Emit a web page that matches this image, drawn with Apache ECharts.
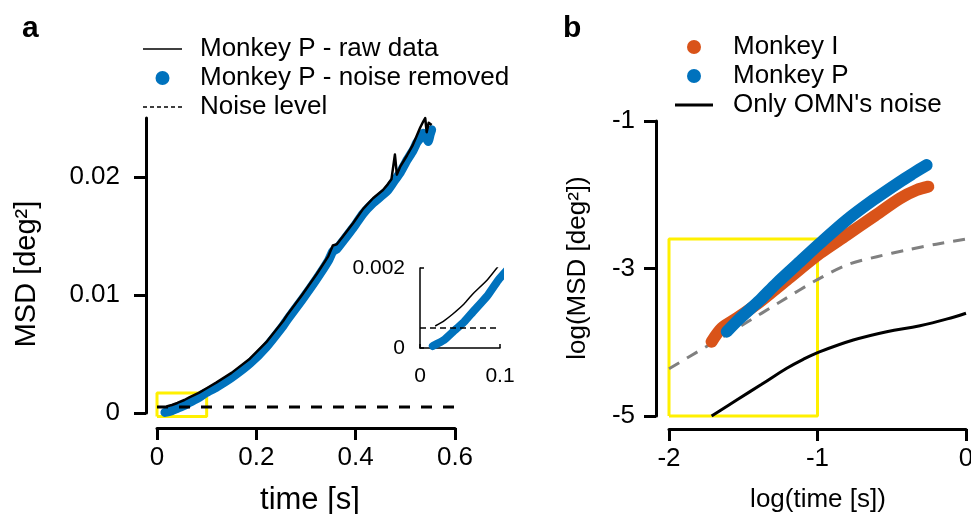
<!DOCTYPE html>
<html>
<head>
<meta charset="utf-8">
<script src="https://cdn.jsdelivr.net/npm/echarts@6.0.0/dist/echarts.min.js"></script>
<style>
  html, body { margin: 0; padding: 0; background: #fff; }
  #chart { width: 971px; height: 514px; }
</style>
</head>
<body>
<div id="chart"></div>
<script>
// ---- panel a : MSD vs time (linear) ----
var timeClean = [0.016, 0.03, 0.041, 0.055, 0.066, 0.084, 0.098, 0.12, 0.15, 0.187, 0.22, 0.254, 0.262, 0.292, 0.322, 0.345, 0.354, 0.362, 0.375, 0.395, 0.415, 0.435, 0.455, 0.465, 0.475, 0.49, 0.503, 0.515, 0.523, 0.53, 0.536, 0.541, 0.546, 0.55, 0.553];
var msdClean  = [0.00005, 0.0002, 0.0004, 0.00065, 0.0009, 0.0013, 0.0017, 0.0022, 0.003, 0.0042, 0.0056, 0.0074, 0.0079, 0.0096, 0.0114, 0.0129, 0.0137, 0.0139, 0.0146, 0.0157, 0.0169, 0.0178, 0.0185, 0.0189, 0.0195, 0.0204, 0.0214, 0.0222, 0.0229, 0.0233, 0.0237, 0.0234, 0.023, 0.0236, 0.024];
var timeRaw = [0.019, 0.03, 0.041, 0.055, 0.066, 0.084, 0.1, 0.12, 0.15, 0.187, 0.22, 0.254, 0.262, 0.292, 0.322, 0.345, 0.354, 0.362, 0.375, 0.395, 0.415, 0.435, 0.455, 0.465, 0.472, 0.479, 0.483, 0.49, 0.503, 0.515, 0.523, 0.53, 0.536, 0.54, 0.543, 0.547, 0.553];
var msdRaw  = [0.00055, 0.00068, 0.00085, 0.0011, 0.00135, 0.0017, 0.0021, 0.0026, 0.0034, 0.0046, 0.006, 0.0078, 0.0083, 0.01, 0.0118, 0.0133, 0.0142, 0.0143, 0.015, 0.0161, 0.0173, 0.0182, 0.0189, 0.0194, 0.0198, 0.0219, 0.0202, 0.0209, 0.0218, 0.0227, 0.0235, 0.0242, 0.0247, 0.025, 0.0238, 0.0246, 0.0244];
var noiseTime = [0, 0.6];
var noiseMsd  = [0.0005, 0.0005];
var boxATime = [0, 0.1, 0.1, 0, 0];
var boxAMsd  = [-0.0003, -0.0003, 0.0017, 0.0017, -0.0003];
var xTicksA = [0, 0.2, 0.4, 0.6];
var yTicksA = [0, 0.01, 0.02];
var xTicksInset = [0, 0.1];
var yTicksInset = [0, 0.002];

// ---- panel b : log-log ----
var logTimeP = [-1.611, -1.522, -1.387, -1.275, -1.118, -0.983, -0.803, -0.624, -0.444, -0.355, -0.265];
var logMsdP  = [-3.857, -3.675, -3.427, -3.2, -2.908, -2.658, -2.342, -2.071, -1.823, -1.709, -1.597];
var logTimeI = [-1.713, -1.645, -1.544, -1.387, -1.207, -0.983, -0.803, -0.624, -0.444, -0.332, -0.254];
var logMsdI  = [-3.993, -3.81, -3.675, -3.45, -3.156, -2.794, -2.546, -2.298, -2.048, -1.936, -1.891];
var logTimeFit = [-2, -1.75, -1.5, -1.25, -1, -0.8, -0.6, -0.4, -0.2, 0];
var logMsdFit  = [-4.36, -4.06, -3.76, -3.45, -3.15, -2.95, -2.84, -2.75, -2.67, -2.6];
var logTimeOmn = [-1.713, -1.544, -1.376, -1.207, -1.096, -0.983, -0.759, -0.534, -0.31, -0.085, 0];
var logMsdOmn  = [-5.0, -4.783, -4.57, -4.353, -4.231, -4.128, -3.97, -3.857, -3.776, -3.661, -3.607];
var boxBTime = [-2, -1, -1, -2, -2];
var boxBMsd  = [-5, -5, -2.6, -2.6, -5];
var xTicksB = [-2, -1, 0];
var yTicksB = [-5, -3, -1];

var BLUE = '#0072bd', ORANGE = '#d95319', YELLOW = '#fff000', GREY = '#808080';
var FONT = 'Liberation Sans';

// legend icons drawn as flat paths (line series legend icons would add a dot)
var ICON_THIN = 'path://M0,0h39v1.5h-39z';
var ICON_DASH = 'path://M0,0h4v1.5h-4zM7,0h4v1.5h-4zM14,0h4v1.5h-4zM21,0h4v1.5h-4zM28,0h4v1.5h-4zM35,0h4v1.5h-4z';
var ICON_THICK = 'path://M0,0h38v3h-38z';

function pairs(xs, ys) {
    return xs.map(function (x, i) { return [x, ys[i]]; });
}

function valueAxis(grid, min, max, interval, ticks, pos, offset, opts) {
    opts = opts || {};
    return {
        type: 'value', gridIndex: grid, min: min, max: max, interval: interval,
        position: pos, offset: offset,
        axisLine: { show: true, onZero: false, lineStyle: { color: '#000', width: opts.lw || 3 } },
        axisTick: { show: true, inside: !!opts.inside, length: opts.tl || 12, customValues: ticks,
                    lineStyle: { color: '#000', width: opts.lw || 3 } },
        axisLabel: { show: true, customValues: ticks, margin: opts.margin,
                     color: '#000', fontSize: opts.fs || 26, fontFamily: FONT },
        splitLine: { show: false }
    };
}

var myChart = echarts.init(document.getElementById('chart'));

var option = {
    animation: false,
    backgroundColor: '#fff',
    grid: [
        { left: 157, top: 118, width: 298, height: 295, containLabel: false, outerBoundsMode: 'none' },
        { left: 420, top: 268, width: 80, height: 80, containLabel: false, outerBoundsMode: 'none' },
        { left: 669, top: 121, width: 297, height: 295, containLabel: false, outerBoundsMode: 'none' }
    ],
    xAxis: [
        valueAxis(0, 0, 0.6, 0.2, xTicksA, 'bottom', 15, { margin: 17 }),
        valueAxis(1, 0, 0.1, 0.1, xTicksInset, 'bottom', 0, { lw: 1.5, tl: 4, inside: true, fs: 21, margin: 18 }),
        valueAxis(2, -2, 0, 1, xTicksB, 'bottom', 13, { margin: 17 })
    ],
    yAxis: [
        valueAxis(0, 0, 0.025, 0.01, yTicksA, 'left', 11, { margin: 26 }),
        valueAxis(1, 0, 0.002, 0.002, yTicksInset, 'left', 0, { lw: 1.5, tl: 4, inside: true, fs: 21, margin: 15 }),
        valueAxis(2, -5, -1, 2, yTicksB, 'left', 13, { margin: 21 })
    ],
    legend: [
        {
            left: 143, top: 36, orient: 'vertical', padding: 0, itemWidth: 39, itemHeight: 14, itemGap: 3,
            selectedMode: false,
            textStyle: { fontSize: 26, fontFamily: FONT, color: '#000', lineHeight: 26, padding: [0, 0, 0, 13] },
            data: [
                { name: 'Monkey P - raw data', icon: ICON_THIN, itemStyle: { color: '#000' } },
                { name: 'Monkey P - noise removed', icon: 'circle' },
                { name: 'Noise level', icon: ICON_DASH, itemStyle: { color: '#000' } }
            ]
        },
        {
            left: 675, top: 34, orient: 'vertical', padding: 0, itemWidth: 38, itemHeight: 14, itemGap: 3,
            selectedMode: false,
            textStyle: { fontSize: 26, fontFamily: FONT, color: '#000', lineHeight: 26, padding: [0, 0, 0, 15] },
            data: [
                { name: 'Monkey I', icon: 'circle' },
                { name: 'Monkey P', icon: 'circle' },
                { name: "Only OMN's noise", icon: ICON_THICK, itemStyle: { color: '#000' } }
            ]
        }
    ],
    series: [
        // panel a main
        { name: 'boxA', type: 'line', xAxisIndex: 0, yAxisIndex: 0, data: pairs(boxATime, boxAMsd),
          symbol: 'none', clip: false, z: 1, silent: true,
          lineStyle: { color: YELLOW, width: 3 } },
        { name: 'Monkey P - noise removed', type: 'line', xAxisIndex: 0, yAxisIndex: 0,
          data: pairs(timeClean, msdClean), symbol: 'none', clip: false, z: 2,
          smooth: 0.15,
          itemStyle: { color: BLUE },
          lineStyle: { color: BLUE, width: 9, cap: 'round', join: 'round' } },
        { name: 'Monkey P - raw data', type: 'line', xAxisIndex: 0, yAxisIndex: 0,
          data: pairs(timeRaw, msdRaw), symbol: 'none', clip: false, z: 3,
          itemStyle: { color: '#000' },
          lineStyle: { color: '#000', width: 2.5, join: 'round' } },
        { name: 'Noise level', type: 'line', xAxisIndex: 0, yAxisIndex: 0,
          data: pairs(noiseTime, noiseMsd), symbol: 'none', clip: false, z: 4,
          itemStyle: { color: '#000' },
          lineStyle: { color: '#000', width: 3, type: [11, 11] } },
        // inset
        { name: 'inset clean', type: 'line', xAxisIndex: 1, yAxisIndex: 1,
          data: pairs(timeClean, msdClean), symbol: 'none', clip: true, z: 2,
          smooth: 0.15,
          lineStyle: { color: BLUE, width: 8, cap: 'round' } },
        { name: 'inset raw', type: 'line', xAxisIndex: 1, yAxisIndex: 1,
          data: pairs(timeRaw, msdRaw), symbol: 'none', clip: true, z: 3,
          smooth: 0.15,
          lineStyle: { color: '#000', width: 1.5 } },
        { name: 'inset noise', type: 'line', xAxisIndex: 1, yAxisIndex: 1,
          data: pairs([0, 0.1], noiseMsd), symbol: 'none', clip: true, z: 4,
          lineStyle: { color: '#000', width: 1.5, type: [6, 4] } },
        // panel b
        { name: 'boxB', type: 'line', xAxisIndex: 2, yAxisIndex: 2, data: pairs(boxBTime, boxBMsd),
          symbol: 'none', clip: false, z: 1, silent: true,
          lineStyle: { color: YELLOW, width: 3 } },
        { name: 'fit', type: 'line', xAxisIndex: 2, yAxisIndex: 2, data: pairs(logTimeFit, logMsdFit),
          symbol: 'none', smooth: 0.3, z: 2,
          lineStyle: { color: GREY, width: 3, type: [12, 9] } },
        { name: "Only OMN's noise", type: 'line', xAxisIndex: 2, yAxisIndex: 2,
          data: pairs(logTimeOmn, logMsdOmn), symbol: 'none', smooth: 0.4, z: 3,
          itemStyle: { color: '#000' },
          lineStyle: { color: '#000', width: 3 } },
        { name: 'Monkey I', type: 'line', xAxisIndex: 2, yAxisIndex: 2,
          data: pairs(logTimeI, logMsdI), symbol: 'none', smooth: 0.3, z: 4,
          itemStyle: { color: ORANGE },
          lineStyle: { color: ORANGE, width: 12, cap: 'round', join: 'round' } },
        { name: 'Monkey P', type: 'line', xAxisIndex: 2, yAxisIndex: 2,
          data: pairs(logTimeP, logMsdP), symbol: 'none', smooth: 0.3, z: 5,
          itemStyle: { color: BLUE },
          lineStyle: { color: BLUE, width: 12, cap: 'round', join: 'round' } }
    ],
    graphic: [
        { type: 'text', left: 22, top: 14, style: { text: 'a', font: 'bold 30px ' + FONT, fill: '#000' } },
        { type: 'text', left: 563, top: 14, style: { text: 'b', font: 'bold 30px ' + FONT, fill: '#000' } },
        { type: 'text', x: 310, y: 500, style: { text: 'time [s]', font: '31px ' + FONT, fill: '#000',
          align: 'center', verticalAlign: 'middle' } },
        { type: 'text', x: 818, y: 500, style: { text: 'log(time [s])', font: '26px ' + FONT, fill: '#000',
          align: 'center', verticalAlign: 'middle' } },
        { type: 'text', x: 27, y: 274, rotation: Math.PI / 2, style: { text: 'MSD [deg²]', font: '29px ' + FONT,
          fill: '#000', align: 'center', verticalAlign: 'middle' } },
        { type: 'text', x: 578, y: 268, rotation: Math.PI / 2, style: { text: 'log(MSD [deg²])', font: '26px ' + FONT,
          fill: '#000', align: 'center', verticalAlign: 'middle' } }
    ]
};

myChart.setOption(option);
window.addEventListener('resize', function () { myChart.resize(); });
</script>
</body>
</html>
